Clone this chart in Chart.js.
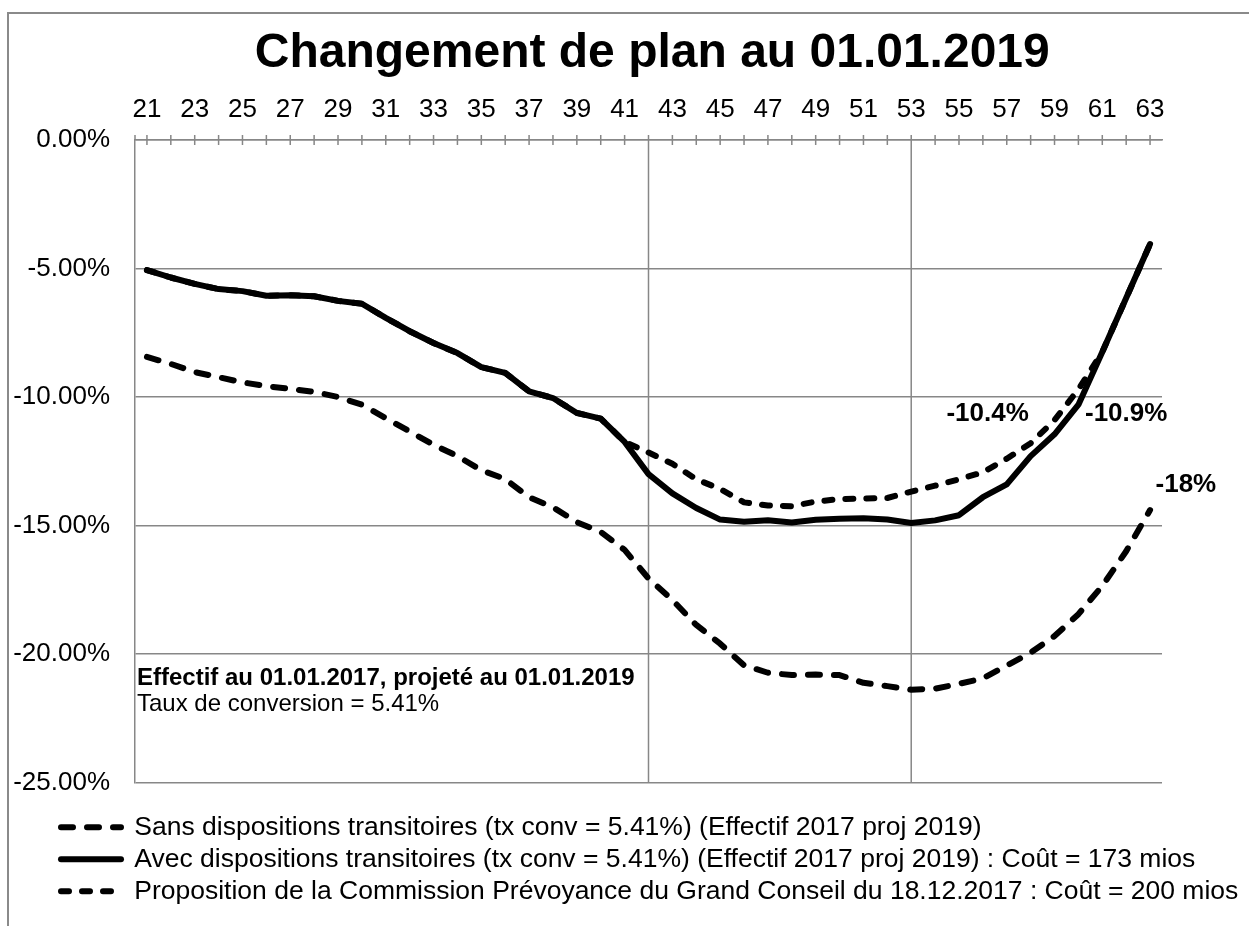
<!DOCTYPE html>
<html><head><meta charset="utf-8">
<script src="https://cdn.jsdelivr.net/npm/chart.js@4.4.0/dist/chart.umd.min.js"></script>
<style>
html,body{margin:0;padding:0;background:#fff;}
#wrap{position:relative;width:1249px;height:926px;overflow:hidden;}
#frame{position:absolute;left:7px;top:12px;width:2000px;height:2000px;border-top:2px solid #8a8a8a;border-left:2px solid #8a8a8a;}
canvas{position:absolute;left:0;top:0;}
</style></head><body>
<div id="wrap"><div id="frame"></div><canvas id="c" width="1249" height="926"></canvas></div>
<script>
const chartTitle = 'Changement de plan au 01.01.2019';
const ages = [21,22,23,24,25,26,27,28,29,30,31,32,33,34,35,36,37,38,39,40,41,42,43,44,45,46,47,48,49,50,51,52,53,54,55,56,57,58,59,60,61,62,63];
const yTickValues = [0,-5,-10,-15,-20,-25];
const seriesNames = [
  'Sans dispositions transitoires (tx conv = 5.41%) (Effectif 2017 proj 2019)',
  'Avec dispositions transitoires (tx conv = 5.41%) (Effectif 2017 proj 2019) : Coût = 173 mios',
  'Proposition de la Commission Prévoyance du Grand Conseil du 18.12.2017 : Coût = 200 mios'
];
const sansValues = [-8.44,-8.71,-9.03,-9.23,-9.43,-9.58,-9.68,-9.80,-10.00,-10.30,-10.82,-11.34,-11.86,-12.30,-12.85,-13.19,-13.90,-14.29,-14.87,-15.25,-15.95,-17.06,-17.90,-18.87,-19.60,-20.44,-20.73,-20.82,-20.80,-20.82,-21.12,-21.25,-21.39,-21.35,-21.16,-20.95,-20.45,-19.95,-19.30,-18.45,-17.35,-16.00,-14.40];
const avecValues = [-5.06,-5.35,-5.60,-5.80,-5.88,-6.06,-6.04,-6.08,-6.26,-6.37,-6.92,-7.44,-7.90,-8.29,-8.84,-9.06,-9.78,-10.04,-10.62,-10.84,-11.75,-13.00,-13.75,-14.32,-14.77,-14.85,-14.80,-14.88,-14.78,-14.74,-14.72,-14.77,-14.90,-14.80,-14.60,-13.90,-13.40,-12.30,-11.45,-10.30,-8.25,-6.15,-4.05];
const propValues = [-5.06,-5.35,-5.60,-5.80,-5.88,-6.06,-6.04,-6.08,-6.26,-6.37,-6.92,-7.44,-7.90,-8.29,-8.84,-9.06,-9.78,-10.04,-10.62,-10.84,-11.75,-12.16,-12.60,-13.20,-13.58,-14.10,-14.22,-14.25,-14.07,-13.97,-13.95,-13.93,-13.68,-13.45,-13.20,-12.93,-12.40,-11.80,-10.90,-9.70,-8.25,-6.15,-4.05];
const refLineAges = [42,53];
const dataLabelTexts = ['-10.4%','-10.9%','-18%'];
const dataLabelAges = [56.2,62.0,64.5];
const dataLabelValues = [-10.64,-10.64,-13.43];
const noteLines = ['Effectif au 01.01.2017, projeté au 01.01.2019','Taux de conversion = 5.41%'];
const noteValues = [-20.96,-21.97];

const GRID = '#878787';
const FONT = "'Liberation Sans', Arial, sans-serif";

const overlayPlugin = {
  id: 'overlay',
  afterLayout(chart) {
    // let the y tick labels extend to the left edge without being clipped
    chart.scales.y.left = 0;
  },
  beforeDatasetsDraw(chart) {
    const {ctx, chartArea: a, scales: {x}} = chart;
    ctx.save();
    ctx.strokeStyle = GRID;
    ctx.lineWidth = 1.5;
    ctx.beginPath();
    refLineAges.forEach(age => {
      const px = x.getPixelForValue(age - ages[0]);
      ctx.moveTo(px, a.top); ctx.lineTo(px, a.bottom);
    });
    ages.forEach((age, i) => {
      const px = x.getPixelForValue(i);
      ctx.moveTo(px, a.top - 5); ctx.lineTo(px, a.top + 5);
    });
    ctx.moveTo(a.left, a.top - 5); ctx.lineTo(a.left, a.top);
    ctx.stroke();
    ctx.restore();
  },
  afterDatasetsDraw(chart) {
    const {ctx, chartArea: a, scales: {x, y}} = chart;
    ctx.save();
    ctx.fillStyle = '#000';
    ctx.textBaseline = 'middle';
    ctx.textAlign = 'center';
    ctx.font = 'bold 26px ' + FONT;
    dataLabelTexts.forEach((t, i) => {
      ctx.fillText(t, x.getPixelForValue(dataLabelAges[i] - ages[0]), y.getPixelForValue(dataLabelValues[i]));
    });
    ctx.textAlign = 'left';
    noteLines.forEach((t, i) => {
      ctx.font = (i === 0 ? 'bold ' : '') + '24px ' + FONT;
      ctx.fillText(t, a.left + 2, y.getPixelForValue(noteValues[i]));
    });
    ctx.restore();
  }
};

const common = {borderColor: '#000', borderWidth: 6, pointRadius: 0, fill: false, tension: 0, borderCapStyle: 'round', borderJoinStyle: 'round'};

new Chart(document.getElementById('c'), {
  type: 'line',
  data: {
    labels: ages,
    datasets: [
      Object.assign({label: seriesNames[0], data: sansValues, borderDash: [12, 14]}, common),
      Object.assign({label: seriesNames[1], data: avecValues, borderDash: []}, common),
      Object.assign({label: seriesNames[2], data: propValues, borderDash: [8, 13]}, common)
    ]
  },
  options: {
    responsive: false, animation: false, devicePixelRatio: 1,
    layout: {padding: {left: 55.5, right: 0, top: 20, bottom: 11.5}},
    plugins: {
      title: {display: true, text: chartTitle, color: '#000', font: {family: FONT, size: 48, weight: 'bold'}, padding: {top: 5, bottom: 0}},
      legend: {
        position: 'bottom', align: 'start',
        labels: {
          font: {family: FONT, size: 26.5}, color: '#000', padding: 5.5,
          usePointStyle: true, pointStyleWidth: 60, boxHeight: 26,
          generateLabels(chart) {
            return chart.data.datasets.map((ds, i) => ({
              text: ds.label, fillStyle: 'rgba(0,0,0,0)', strokeStyle: ds.borderColor,
              lineWidth: ds.borderWidth, lineDash: ds.borderDash, lineCap: 'round',
              pointStyle: 'line', datasetIndex: i, hidden: false, fontColor: '#000'
            }));
          }
        }
      },
      tooltip: {enabled: false}
    },
    scales: {
      x: {
        type: 'category', position: 'top', offset: true,
        grid: {display: false, drawTicks: false},
        border: {display: true, color: GRID, width: 1.5},
        ticks: {autoSkip: false, maxRotation: 0, padding: 15, color: '#000', font: {family: FONT, size: 26},
          callback(v, i) { return i % 2 === 0 ? this.getLabelForValue(v) : ''; }},
        afterFit(s) { s.height = 57.4; }
      },
      x2: {type: 'linear', position: 'bottom', display: true, grid: {display: false}, border: {display: false}, ticks: {display: false},
        afterFit(s) { s.height = 26; }},
      y: {
        min: -25, max: 0,
        grid: {color: GRID, lineWidth: 1.5, drawTicks: false},
        border: {display: true, color: GRID, width: 1.5},
        ticks: {padding: 25, color: '#000', font: {family: FONT, size: 26}, callback: v => v.toFixed(2) + '%'},
        afterBuildTicks(s) { s.ticks = yTickValues.map(v => ({value: v})); },
        afterFit(s) { s.width = 79.5; }
      },
      y2: {type: 'linear', position: 'right', display: true, grid: {display: false}, border: {display: false}, ticks: {display: false},
        afterFit(s) { s.width = 87; }}
    }
  },
  plugins: [overlayPlugin]
});
</script>
</body></html>
